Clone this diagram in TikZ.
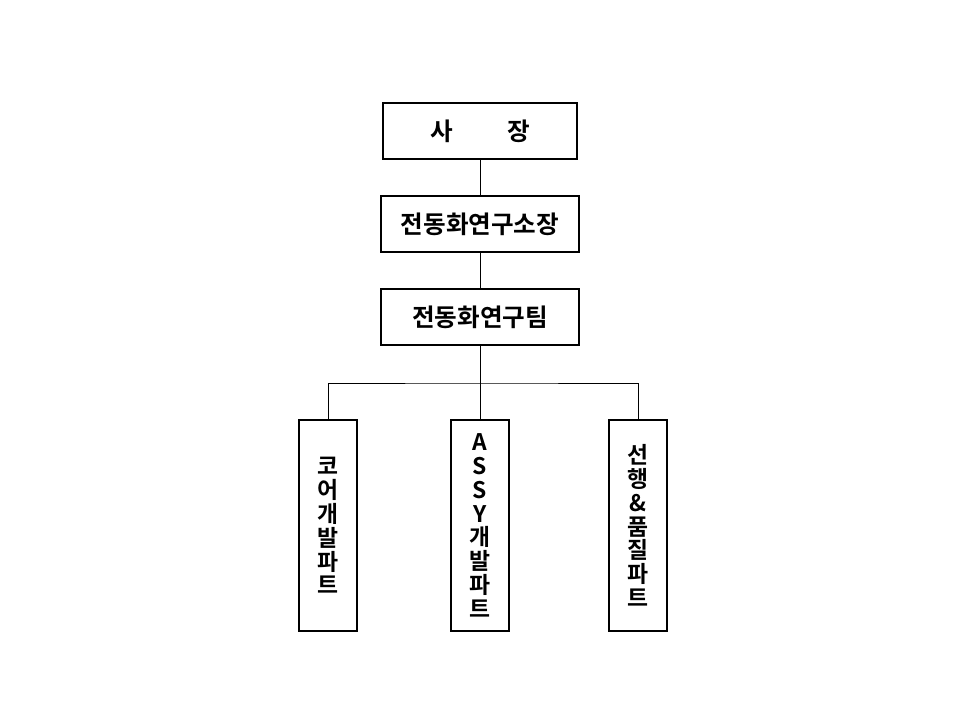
\documentclass[tikz,border=0pt]{standalone}
\usepackage{fontspec}
\newfontfamily\kr{Noto Sans CJK KR}[BoldFont={* Bold}]
\usetikzlibrary{positioning}
\tikzset{
  box/.style={draw, line width=1.2pt, inner sep=0pt, font=\kr\bfseries\fontsize{14pt}{17pt}\selectfont},
  wide/.style={box, minimum width=194*0.02cm, minimum height=56*0.02cm},
  part/.style={box, minimum width=58*0.02cm, minimum height=211*0.02cm, align=center,
    font=\kr\bfseries\fontsize{13pt}{13.6pt}\selectfont},
  link/.style={line width=0.5pt}
}
\begin{document}
\begin{tikzpicture}[x=0.02cm,y=-0.02cm]
\useasboundingbox (0,0) rectangle (960,720);
\node[wide] (ceo) at (480,131) {사\hspace{2.2em}장};
\node[wide, minimum width=198*0.02cm] (inst) at (480,224) {전동화연구소장};
\node[wide, minimum width=198*0.02cm] (team) at (480,317) {전동화연구팀};

\node[part] (core) at (328,525.5) {코\\어\\개\\발\\파\\트};
\node[part] (assy) at (480,525.5) {A\\S\\S\\Y\\개\\발\\파\\트};
\node[part] (qual) at (638,525.5) {선\\행\\\&\\품\\질\\파\\트};

\coordinate (bus) at (480,383);
\draw[link] (ceo) -- (inst);
\draw[link] (inst) -- (team);
\draw[link] (team) -- (assy);
\draw[link] (core.north) |- (bus) -| (qual.north);
\end{tikzpicture}
\end{document}
